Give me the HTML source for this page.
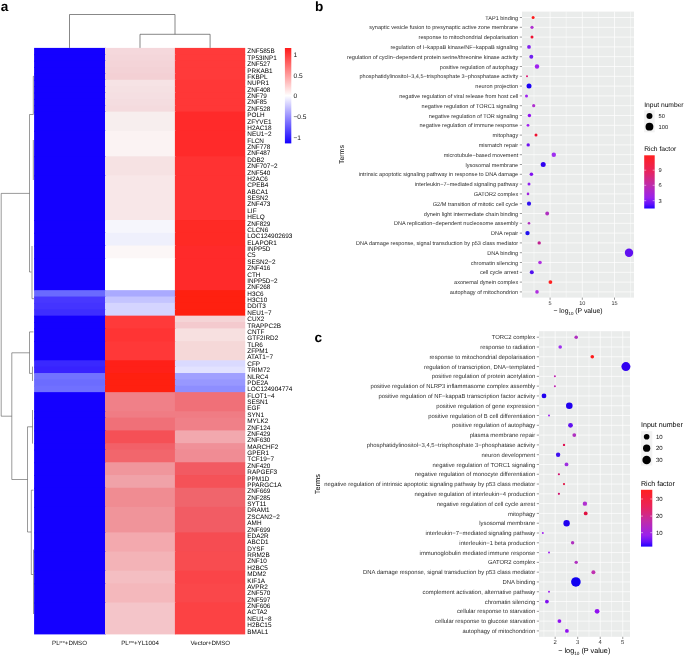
<!DOCTYPE html>
<html><head><meta charset="utf-8"><style>
html,body{margin:0;padding:0;background:#fff;}
body{width:685px;height:655px;overflow:hidden;}
svg{display:block;font-family:"Liberation Sans", sans-serif;text-rendering:geometricPrecision;will-change:transform;}
</style></head><body>
<svg width="685" height="655" viewBox="0 0 685 655">
<rect width="685" height="655" fill="#fff"/>
<rect x="34.10" y="47.90" width="71.90" height="7.38" fill="#1400ff"/>
<rect x="105.00" y="47.90" width="70.90" height="7.38" fill="#f5d8dc"/>
<rect x="174.90" y="47.90" width="70.30" height="7.38" fill="#ff3a3a"/>
<rect x="34.10" y="54.27" width="71.90" height="7.38" fill="#1400ff"/>
<rect x="105.00" y="54.27" width="70.90" height="7.38" fill="#f4d6da"/>
<rect x="174.90" y="54.27" width="70.30" height="7.38" fill="#ff3a3a"/>
<rect x="34.10" y="60.65" width="71.90" height="7.38" fill="#1400ff"/>
<rect x="105.00" y="60.65" width="70.90" height="7.38" fill="#f4d4d8"/>
<rect x="174.90" y="60.65" width="70.30" height="7.38" fill="#ff3a3a"/>
<rect x="34.10" y="67.03" width="71.90" height="7.38" fill="#1400ff"/>
<rect x="105.00" y="67.03" width="70.90" height="7.38" fill="#f3d2d6"/>
<rect x="174.90" y="67.03" width="70.30" height="7.38" fill="#ff3a3a"/>
<rect x="34.10" y="73.40" width="71.90" height="7.38" fill="#1400ff"/>
<rect x="105.00" y="73.40" width="70.90" height="7.38" fill="#f3d0d4"/>
<rect x="174.90" y="73.40" width="70.30" height="7.38" fill="#ff3a3a"/>
<rect x="34.10" y="79.78" width="71.90" height="7.38" fill="#1400ff"/>
<rect x="105.00" y="79.78" width="70.90" height="7.38" fill="#f6e3e5"/>
<rect x="174.90" y="79.78" width="70.30" height="7.38" fill="#ff3737"/>
<rect x="34.10" y="86.15" width="71.90" height="7.38" fill="#1400ff"/>
<rect x="105.00" y="86.15" width="70.90" height="7.38" fill="#f5e1e3"/>
<rect x="174.90" y="86.15" width="70.30" height="7.38" fill="#ff3737"/>
<rect x="34.10" y="92.53" width="71.90" height="7.38" fill="#1400ff"/>
<rect x="105.00" y="92.53" width="70.90" height="7.38" fill="#f5dfe2"/>
<rect x="174.90" y="92.53" width="70.30" height="7.38" fill="#ff3737"/>
<rect x="34.10" y="98.90" width="71.90" height="7.38" fill="#1400ff"/>
<rect x="105.00" y="98.90" width="70.90" height="7.38" fill="#f4dde0"/>
<rect x="174.90" y="98.90" width="70.30" height="7.38" fill="#ff3737"/>
<rect x="34.10" y="105.28" width="71.90" height="7.38" fill="#1400ff"/>
<rect x="105.00" y="105.28" width="70.90" height="7.38" fill="#f4dbde"/>
<rect x="174.90" y="105.28" width="70.30" height="7.38" fill="#ff3737"/>
<rect x="34.10" y="111.65" width="71.90" height="20.12" fill="#1400ff"/>
<rect x="105.00" y="111.65" width="70.90" height="20.12" fill="#f7eeee"/>
<rect x="174.90" y="111.65" width="70.30" height="20.12" fill="#ff2a2a"/>
<rect x="34.10" y="130.78" width="71.90" height="26.50" fill="#1400ff"/>
<rect x="105.00" y="130.78" width="70.90" height="26.50" fill="#fbf3f3"/>
<rect x="174.90" y="130.78" width="70.30" height="26.50" fill="#ff2a2a"/>
<rect x="34.10" y="156.28" width="71.90" height="20.12" fill="#1400ff"/>
<rect x="105.00" y="156.28" width="70.90" height="20.12" fill="#f6e2e3"/>
<rect x="174.90" y="156.28" width="70.30" height="20.12" fill="#ff3232"/>
<rect x="34.10" y="175.40" width="71.90" height="45.62" fill="#1400ff"/>
<rect x="105.00" y="175.40" width="70.90" height="45.62" fill="#f8e7e8"/>
<rect x="174.90" y="175.40" width="70.30" height="45.62" fill="#ff3232"/>
<rect x="34.10" y="220.03" width="71.90" height="13.75" fill="#1400ff"/>
<rect x="105.00" y="220.03" width="70.90" height="13.75" fill="#f6f6fc"/>
<rect x="174.90" y="220.03" width="70.30" height="13.75" fill="#ff2a25"/>
<rect x="34.10" y="232.78" width="71.90" height="13.75" fill="#1400ff"/>
<rect x="105.00" y="232.78" width="70.90" height="13.75" fill="#eff0fc"/>
<rect x="174.90" y="232.78" width="70.30" height="13.75" fill="#ff2a25"/>
<rect x="34.10" y="245.53" width="71.90" height="13.75" fill="#1400ff"/>
<rect x="105.00" y="245.53" width="70.90" height="13.75" fill="#fcf7f7"/>
<rect x="174.90" y="245.53" width="70.30" height="13.75" fill="#ff2a2a"/>
<rect x="34.10" y="258.27" width="71.90" height="32.88" fill="#1400ff"/>
<rect x="105.00" y="258.27" width="70.90" height="32.88" fill="#ffffff"/>
<rect x="174.90" y="258.27" width="70.30" height="32.88" fill="#ff2a2a"/>
<rect x="34.10" y="290.15" width="71.90" height="7.38" fill="#6a6aff"/>
<rect x="105.00" y="290.15" width="70.90" height="7.38" fill="#aaaaff"/>
<rect x="174.90" y="290.15" width="70.30" height="7.38" fill="#ff2010"/>
<rect x="34.10" y="296.52" width="71.90" height="7.38" fill="#4838ff"/>
<rect x="105.00" y="296.52" width="70.90" height="7.38" fill="#c4c4ff"/>
<rect x="174.90" y="296.52" width="70.30" height="7.38" fill="#ff2010"/>
<rect x="34.10" y="302.90" width="71.90" height="7.38" fill="#4434ff"/>
<rect x="105.00" y="302.90" width="70.90" height="7.38" fill="#d4d4ff"/>
<rect x="174.90" y="302.90" width="70.30" height="7.38" fill="#ff2010"/>
<rect x="34.10" y="309.27" width="71.90" height="7.38" fill="#3e2eff"/>
<rect x="105.00" y="309.27" width="70.90" height="7.38" fill="#d4d4ff"/>
<rect x="174.90" y="309.27" width="70.30" height="7.38" fill="#ff2010"/>
<rect x="34.10" y="315.65" width="71.90" height="7.38" fill="#1400ff"/>
<rect x="105.00" y="315.65" width="70.90" height="7.38" fill="#ff3a3a"/>
<rect x="174.90" y="315.65" width="70.30" height="7.38" fill="#f5d4d6"/>
<rect x="34.10" y="322.02" width="71.90" height="7.38" fill="#1400ff"/>
<rect x="105.00" y="322.02" width="70.90" height="7.38" fill="#ff3a3a"/>
<rect x="174.90" y="322.02" width="70.30" height="7.38" fill="#f4cace"/>
<rect x="34.10" y="328.40" width="71.90" height="13.75" fill="#1400ff"/>
<rect x="105.00" y="328.40" width="70.90" height="13.75" fill="#ff3434"/>
<rect x="174.90" y="328.40" width="70.30" height="13.75" fill="#f7e0e0"/>
<rect x="34.10" y="341.15" width="71.90" height="20.12" fill="#1400ff"/>
<rect x="105.00" y="341.15" width="70.90" height="20.12" fill="#ff3838"/>
<rect x="174.90" y="341.15" width="70.30" height="20.12" fill="#f5d8d8"/>
<rect x="34.10" y="360.27" width="71.90" height="7.38" fill="#3a28ff"/>
<rect x="105.00" y="360.27" width="70.90" height="7.38" fill="#ff2018"/>
<rect x="174.90" y="360.27" width="70.30" height="7.38" fill="#dadaff"/>
<rect x="34.10" y="366.65" width="71.90" height="7.38" fill="#3822ff"/>
<rect x="105.00" y="366.65" width="70.90" height="7.38" fill="#ff2018"/>
<rect x="174.90" y="366.65" width="70.30" height="7.38" fill="#e2e2ff"/>
<rect x="34.10" y="373.02" width="71.90" height="7.38" fill="#7272ff"/>
<rect x="105.00" y="373.02" width="70.90" height="7.38" fill="#ff2010"/>
<rect x="174.90" y="373.02" width="70.30" height="7.38" fill="#a0a0ff"/>
<rect x="34.10" y="379.40" width="71.90" height="7.38" fill="#6c6cff"/>
<rect x="105.00" y="379.40" width="70.90" height="7.38" fill="#ff2010"/>
<rect x="174.90" y="379.40" width="70.30" height="7.38" fill="#9898ff"/>
<rect x="34.10" y="385.77" width="71.90" height="7.38" fill="#7070ff"/>
<rect x="105.00" y="385.77" width="70.90" height="7.38" fill="#ff2010"/>
<rect x="174.90" y="385.77" width="70.30" height="7.38" fill="#8e8eff"/>
<rect x="34.10" y="392.15" width="71.90" height="20.12" fill="#1400ff"/>
<rect x="105.00" y="392.15" width="70.90" height="20.12" fill="#f08088"/>
<rect x="174.90" y="392.15" width="70.30" height="20.12" fill="#f07078"/>
<rect x="34.10" y="411.27" width="71.90" height="7.38" fill="#1400ff"/>
<rect x="105.00" y="411.27" width="70.90" height="7.38" fill="#f07c84"/>
<rect x="174.90" y="411.27" width="70.30" height="7.38" fill="#f07c84"/>
<rect x="34.10" y="417.65" width="71.90" height="13.75" fill="#1400ff"/>
<rect x="105.00" y="417.65" width="70.90" height="13.75" fill="#f07078"/>
<rect x="174.90" y="417.65" width="70.30" height="13.75" fill="#f08088"/>
<rect x="34.10" y="430.40" width="71.90" height="13.75" fill="#1400ff"/>
<rect x="105.00" y="430.40" width="70.90" height="13.75" fill="#f55056"/>
<rect x="174.90" y="430.40" width="70.30" height="13.75" fill="#f2a8ae"/>
<rect x="34.10" y="443.15" width="71.90" height="7.38" fill="#1400ff"/>
<rect x="105.00" y="443.15" width="70.90" height="7.38" fill="#f26068"/>
<rect x="174.90" y="443.15" width="70.30" height="7.38" fill="#f09098"/>
<rect x="34.10" y="449.52" width="71.90" height="13.75" fill="#1400ff"/>
<rect x="105.00" y="449.52" width="70.90" height="13.75" fill="#f2666c"/>
<rect x="174.90" y="449.52" width="70.30" height="13.75" fill="#f08c94"/>
<rect x="34.10" y="462.27" width="71.90" height="13.75" fill="#1400ff"/>
<rect x="105.00" y="462.27" width="70.90" height="13.75" fill="#f0969c"/>
<rect x="174.90" y="462.27" width="70.30" height="13.75" fill="#f25a62"/>
<rect x="34.10" y="475.02" width="71.90" height="13.75" fill="#1400ff"/>
<rect x="105.00" y="475.02" width="70.90" height="13.75" fill="#f0a2a8"/>
<rect x="174.90" y="475.02" width="70.30" height="13.75" fill="#f55258"/>
<rect x="34.10" y="487.77" width="71.90" height="20.12" fill="#1400ff"/>
<rect x="105.00" y="487.77" width="70.90" height="20.12" fill="#f08c92"/>
<rect x="174.90" y="487.77" width="70.30" height="20.12" fill="#f0656c"/>
<rect x="34.10" y="506.90" width="71.90" height="26.50" fill="#1400ff"/>
<rect x="105.00" y="506.90" width="70.90" height="26.50" fill="#f0949a"/>
<rect x="174.90" y="506.90" width="70.30" height="26.50" fill="#f25c64"/>
<rect x="34.10" y="532.40" width="71.90" height="20.12" fill="#1400ff"/>
<rect x="105.00" y="532.40" width="70.90" height="20.12" fill="#f3a9ae"/>
<rect x="174.90" y="532.40" width="70.30" height="20.12" fill="#f64c52"/>
<rect x="34.10" y="551.52" width="71.90" height="20.12" fill="#1400ff"/>
<rect x="105.00" y="551.52" width="70.90" height="20.12" fill="#f3b3b7"/>
<rect x="174.90" y="551.52" width="70.30" height="20.12" fill="#f84c50"/>
<rect x="34.10" y="570.65" width="71.90" height="13.75" fill="#1400ff"/>
<rect x="105.00" y="570.65" width="70.90" height="13.75" fill="#f4bec2"/>
<rect x="174.90" y="570.65" width="70.30" height="13.75" fill="#fa4448"/>
<rect x="34.10" y="583.40" width="71.90" height="20.12" fill="#1400ff"/>
<rect x="105.00" y="583.40" width="70.90" height="20.12" fill="#f4b8bc"/>
<rect x="174.90" y="583.40" width="70.30" height="20.12" fill="#fa474a"/>
<rect x="34.10" y="602.52" width="71.90" height="31.88" fill="#1400ff"/>
<rect x="105.00" y="602.52" width="70.90" height="31.88" fill="#f4c5c9"/>
<rect x="174.90" y="602.52" width="70.30" height="31.88" fill="#fc4244"/>
<text x="247.3" y="53.44" font-size="6.4" fill="#000">ZNF585B</text>
<text x="247.3" y="59.81" font-size="6.4" fill="#000">TP53INP1</text>
<text x="247.3" y="66.19" font-size="6.4" fill="#000">ZNF527</text>
<text x="247.3" y="72.56" font-size="6.4" fill="#000">PRKAB1</text>
<text x="247.3" y="78.94" font-size="6.4" fill="#000">FKBPL</text>
<text x="247.3" y="85.31" font-size="6.4" fill="#000">NUPR1</text>
<text x="247.3" y="91.69" font-size="6.4" fill="#000">ZNF408</text>
<text x="247.3" y="98.06" font-size="6.4" fill="#000">ZNF79</text>
<text x="247.3" y="104.44" font-size="6.4" fill="#000">ZNF85</text>
<text x="247.3" y="110.81" font-size="6.4" fill="#000">ZNF528</text>
<text x="247.3" y="117.19" font-size="6.4" fill="#000">POLH</text>
<text x="247.3" y="123.56" font-size="6.4" fill="#000">ZFYVE1</text>
<text x="247.3" y="129.94" font-size="6.4" fill="#000">H2AC18</text>
<text x="247.3" y="136.31" font-size="6.4" fill="#000">NEU1−2</text>
<text x="247.3" y="142.69" font-size="6.4" fill="#000">FLCN</text>
<text x="247.3" y="149.06" font-size="6.4" fill="#000">ZNF778</text>
<text x="247.3" y="155.44" font-size="6.4" fill="#000">ZNF487</text>
<text x="247.3" y="161.81" font-size="6.4" fill="#000">DDB2</text>
<text x="247.3" y="168.19" font-size="6.4" fill="#000">ZNF707−2</text>
<text x="247.3" y="174.56" font-size="6.4" fill="#000">ZNF540</text>
<text x="247.3" y="180.94" font-size="6.4" fill="#000">H2AC6</text>
<text x="247.3" y="187.31" font-size="6.4" fill="#000">CPEB4</text>
<text x="247.3" y="193.69" font-size="6.4" fill="#000">ABCA1</text>
<text x="247.3" y="200.06" font-size="6.4" fill="#000">SESN2</text>
<text x="247.3" y="206.44" font-size="6.4" fill="#000">ZNF473</text>
<text x="247.3" y="212.81" font-size="6.4" fill="#000">LIF</text>
<text x="247.3" y="219.19" font-size="6.4" fill="#000">HELQ</text>
<text x="247.3" y="225.56" font-size="6.4" fill="#000">ZNF829</text>
<text x="247.3" y="231.94" font-size="6.4" fill="#000">CLCN6</text>
<text x="247.3" y="238.31" font-size="6.4" fill="#000">LOC124902693</text>
<text x="247.3" y="244.69" font-size="6.4" fill="#000">ELAPOR1</text>
<text x="247.3" y="251.06" font-size="6.4" fill="#000">INPP5D</text>
<text x="247.3" y="257.44" font-size="6.4" fill="#000">C5</text>
<text x="247.3" y="263.81" font-size="6.4" fill="#000">SESN2−2</text>
<text x="247.3" y="270.19" font-size="6.4" fill="#000">ZNF416</text>
<text x="247.3" y="276.56" font-size="6.4" fill="#000">CTH</text>
<text x="247.3" y="282.94" font-size="6.4" fill="#000">INPP5D−2</text>
<text x="247.3" y="289.31" font-size="6.4" fill="#000">ZNF268</text>
<text x="247.3" y="295.69" font-size="6.4" fill="#000">H3C6</text>
<text x="247.3" y="302.06" font-size="6.4" fill="#000">H3C10</text>
<text x="247.3" y="308.44" font-size="6.4" fill="#000">DDIT3</text>
<text x="247.3" y="314.81" font-size="6.4" fill="#000">NEU1−7</text>
<text x="247.3" y="321.19" font-size="6.4" fill="#000">CUX2</text>
<text x="247.3" y="327.56" font-size="6.4" fill="#000">TRAPPC2B</text>
<text x="247.3" y="333.94" font-size="6.4" fill="#000">CNTF</text>
<text x="247.3" y="340.31" font-size="6.4" fill="#000">GTF2IRD2</text>
<text x="247.3" y="346.69" font-size="6.4" fill="#000">TLR6</text>
<text x="247.3" y="353.06" font-size="6.4" fill="#000">ZFPM1</text>
<text x="247.3" y="359.44" font-size="6.4" fill="#000">ATAT1−7</text>
<text x="247.3" y="365.81" font-size="6.4" fill="#000">CFP</text>
<text x="247.3" y="372.19" font-size="6.4" fill="#000">TRIM72</text>
<text x="247.3" y="378.56" font-size="6.4" fill="#000">NLRC4</text>
<text x="247.3" y="384.94" font-size="6.4" fill="#000">PDE2A</text>
<text x="247.3" y="391.31" font-size="6.4" fill="#000">LOC124904774</text>
<text x="247.3" y="397.69" font-size="6.4" fill="#000">FLOT1−4</text>
<text x="247.3" y="404.06" font-size="6.4" fill="#000">SESN1</text>
<text x="247.3" y="410.44" font-size="6.4" fill="#000">EGF</text>
<text x="247.3" y="416.81" font-size="6.4" fill="#000">SYN1</text>
<text x="247.3" y="423.19" font-size="6.4" fill="#000">MYLK2</text>
<text x="247.3" y="429.56" font-size="6.4" fill="#000">ZNF124</text>
<text x="247.3" y="435.94" font-size="6.4" fill="#000">ZNF429</text>
<text x="247.3" y="442.31" font-size="6.4" fill="#000">ZNF630</text>
<text x="247.3" y="448.69" font-size="6.4" fill="#000">MARCHF2</text>
<text x="247.3" y="455.06" font-size="6.4" fill="#000">GPER1</text>
<text x="247.3" y="461.44" font-size="6.4" fill="#000">TCF19−7</text>
<text x="247.3" y="467.81" font-size="6.4" fill="#000">ZNF420</text>
<text x="247.3" y="474.19" font-size="6.4" fill="#000">RAPGEF3</text>
<text x="247.3" y="480.56" font-size="6.4" fill="#000">PPM1D</text>
<text x="247.3" y="486.94" font-size="6.4" fill="#000">PPARGC1A</text>
<text x="247.3" y="493.31" font-size="6.4" fill="#000">ZNF669</text>
<text x="247.3" y="499.69" font-size="6.4" fill="#000">ZNF285</text>
<text x="247.3" y="506.06" font-size="6.4" fill="#000">SYT11</text>
<text x="247.3" y="512.44" font-size="6.4" fill="#000">DRAM1</text>
<text x="247.3" y="518.81" font-size="6.4" fill="#000">ZSCAN2−2</text>
<text x="247.3" y="525.19" font-size="6.4" fill="#000">AMH</text>
<text x="247.3" y="531.56" font-size="6.4" fill="#000">ZNF699</text>
<text x="247.3" y="537.94" font-size="6.4" fill="#000">EDA2R</text>
<text x="247.3" y="544.31" font-size="6.4" fill="#000">ABCD1</text>
<text x="247.3" y="550.69" font-size="6.4" fill="#000">DYSF</text>
<text x="247.3" y="557.06" font-size="6.4" fill="#000">RRM2B</text>
<text x="247.3" y="563.44" font-size="6.4" fill="#000">ZNF10</text>
<text x="247.3" y="569.81" font-size="6.4" fill="#000">H2BC5</text>
<text x="247.3" y="576.19" font-size="6.4" fill="#000">MDM2</text>
<text x="247.3" y="582.56" font-size="6.4" fill="#000">KIF1A</text>
<text x="247.3" y="588.94" font-size="6.4" fill="#000">AVPR2</text>
<text x="247.3" y="595.31" font-size="6.4" fill="#000">ZNF570</text>
<text x="247.3" y="601.69" font-size="6.4" fill="#000">ZNF597</text>
<text x="247.3" y="608.06" font-size="6.4" fill="#000">ZNF606</text>
<text x="247.3" y="614.44" font-size="6.4" fill="#000">ACTA2</text>
<text x="247.3" y="620.81" font-size="6.4" fill="#000">NEU1−8</text>
<text x="247.3" y="627.19" font-size="6.4" fill="#000">H2BC15</text>
<text x="247.3" y="633.56" font-size="6.4" fill="#000">BMAL1</text>
<path d="M69.5 47.9V14.5H175V34.3M140 47.9V34.3H210.1V47.9" fill="none" stroke="#555" stroke-width="0.7"/>
<path d="M34 76.3H33.3V114.5 M33.3 114.5H29.5V272H31.5 M29.5 193.4H1.2V416.2H11.8 M33.3 140V180 M32 246V298.7H34 M33.5 331.9H29.5V373.4H32 M29.5 352.8H11.8V479.5H27.5 M32.5 366.6V381 M32.5 426.8H27.5V532H31.3 M32.5 410V443.6 M33.5 490.2H31.3V574.5H33.3 M33.5 549.6V614" fill="none" stroke="#555" stroke-width="0.6"/>
<defs><linearGradient id="hmcb" x1="0" y1="0" x2="0" y2="1"><stop offset="0" stop-color="#ff1a1a"/><stop offset="0.5" stop-color="#ffffff"/><stop offset="1" stop-color="#1400ff"/></linearGradient><linearGradient id="rfb" x1="0" y1="0" x2="0" y2="1"><stop offset="0" stop-color="#ff2020"/><stop offset="0.3" stop-color="#e8245c"/><stop offset="0.55" stop-color="#c02ca8"/><stop offset="0.8" stop-color="#9a22ec"/><stop offset="0.92" stop-color="#6010fa"/><stop offset="1" stop-color="#2000ff"/></linearGradient></defs>
<rect x="284.9" y="48" width="6.4" height="95.4" fill="url(#hmcb)"/>
<text x="293.5" y="56.5" font-size="6.6" fill="#111">1</text>
<text x="293.5" y="77.8" font-size="6.6" fill="#111">0.5</text>
<text x="293.5" y="97.9" font-size="6.6" fill="#111">0</text>
<text x="293.5" y="119.0" font-size="6.6" fill="#111">−0.5</text>
<text x="293.5" y="139.6" font-size="6.6" fill="#111">−1</text>
<text x="69.5" y="644.6" font-size="6.2" fill="#111" text-anchor="middle">PL<tspan font-size="3.6" dy="-2">pro</tspan><tspan dy="2">+DMSO</tspan></text>
<text x="140" y="644.6" font-size="6.2" fill="#111" text-anchor="middle">PL<tspan font-size="3.6" dy="-2">pro</tspan><tspan dy="2">+YL1004</tspan></text>
<text x="210.3" y="644.6" font-size="6.2" fill="#111" text-anchor="middle">Vector+DMSO</text>
<text x="0.7" y="10.8" font-size="13.6" font-weight="bold" fill="#000">a</text>
<text x="314.9" y="10.8" font-size="13.6" font-weight="bold" fill="#000">b</text>
<text x="314.4" y="341.8" font-size="13.6" font-weight="bold" fill="#000">c</text>
<rect x="522" y="11.6" width="112" height="286.0" fill="#eaeceb"/>
<line x1="534.00" y1="11.6" x2="534.00" y2="297.6" stroke="#fff" stroke-width="0.45"/>
<line x1="566.20" y1="11.6" x2="566.20" y2="297.6" stroke="#fff" stroke-width="0.45"/>
<line x1="598.40" y1="11.6" x2="598.40" y2="297.6" stroke="#fff" stroke-width="0.45"/>
<line x1="630.60" y1="11.6" x2="630.60" y2="297.6" stroke="#fff" stroke-width="0.45"/>
<line x1="550.10" y1="11.6" x2="550.10" y2="297.6" stroke="#fff" stroke-width="0.7"/>
<line x1="582.30" y1="11.6" x2="582.30" y2="297.6" stroke="#fff" stroke-width="0.7"/>
<line x1="614.50" y1="11.6" x2="614.50" y2="297.6" stroke="#fff" stroke-width="0.7"/>
<line x1="522" y1="17.50" x2="634" y2="17.50" stroke="#fff" stroke-width="0.7"/>
<line x1="522" y1="27.30" x2="634" y2="27.30" stroke="#fff" stroke-width="0.7"/>
<line x1="522" y1="37.10" x2="634" y2="37.10" stroke="#fff" stroke-width="0.7"/>
<line x1="522" y1="46.90" x2="634" y2="46.90" stroke="#fff" stroke-width="0.7"/>
<line x1="522" y1="56.70" x2="634" y2="56.70" stroke="#fff" stroke-width="0.7"/>
<line x1="522" y1="66.50" x2="634" y2="66.50" stroke="#fff" stroke-width="0.7"/>
<line x1="522" y1="76.30" x2="634" y2="76.30" stroke="#fff" stroke-width="0.7"/>
<line x1="522" y1="86.10" x2="634" y2="86.10" stroke="#fff" stroke-width="0.7"/>
<line x1="522" y1="95.90" x2="634" y2="95.90" stroke="#fff" stroke-width="0.7"/>
<line x1="522" y1="105.70" x2="634" y2="105.70" stroke="#fff" stroke-width="0.7"/>
<line x1="522" y1="115.50" x2="634" y2="115.50" stroke="#fff" stroke-width="0.7"/>
<line x1="522" y1="125.30" x2="634" y2="125.30" stroke="#fff" stroke-width="0.7"/>
<line x1="522" y1="135.10" x2="634" y2="135.10" stroke="#fff" stroke-width="0.7"/>
<line x1="522" y1="144.90" x2="634" y2="144.90" stroke="#fff" stroke-width="0.7"/>
<line x1="522" y1="154.70" x2="634" y2="154.70" stroke="#fff" stroke-width="0.7"/>
<line x1="522" y1="164.50" x2="634" y2="164.50" stroke="#fff" stroke-width="0.7"/>
<line x1="522" y1="174.30" x2="634" y2="174.30" stroke="#fff" stroke-width="0.7"/>
<line x1="522" y1="184.10" x2="634" y2="184.10" stroke="#fff" stroke-width="0.7"/>
<line x1="522" y1="193.90" x2="634" y2="193.90" stroke="#fff" stroke-width="0.7"/>
<line x1="522" y1="203.70" x2="634" y2="203.70" stroke="#fff" stroke-width="0.7"/>
<line x1="522" y1="213.50" x2="634" y2="213.50" stroke="#fff" stroke-width="0.7"/>
<line x1="522" y1="223.30" x2="634" y2="223.30" stroke="#fff" stroke-width="0.7"/>
<line x1="522" y1="233.10" x2="634" y2="233.10" stroke="#fff" stroke-width="0.7"/>
<line x1="522" y1="242.90" x2="634" y2="242.90" stroke="#fff" stroke-width="0.7"/>
<line x1="522" y1="252.70" x2="634" y2="252.70" stroke="#fff" stroke-width="0.7"/>
<line x1="522" y1="262.50" x2="634" y2="262.50" stroke="#fff" stroke-width="0.7"/>
<line x1="522" y1="272.30" x2="634" y2="272.30" stroke="#fff" stroke-width="0.7"/>
<line x1="522" y1="282.10" x2="634" y2="282.10" stroke="#fff" stroke-width="0.7"/>
<line x1="522" y1="291.90" x2="634" y2="291.90" stroke="#fff" stroke-width="0.7"/>
<text x="518.2" y="19.50" font-size="5.55" fill="#2e2e2e" text-anchor="end">TAP1 binding</text>
<line x1="519.8" y1="17.50" x2="522" y2="17.50" stroke="#333" stroke-width="0.5"/>
<text x="518.2" y="29.30" font-size="5.55" fill="#2e2e2e" text-anchor="end">synaptic vesicle fusion to presynaptic active zone membrane</text>
<line x1="519.8" y1="27.30" x2="522" y2="27.30" stroke="#333" stroke-width="0.5"/>
<text x="518.2" y="39.10" font-size="5.55" fill="#2e2e2e" text-anchor="end">response to mitochondrial depolarisation</text>
<line x1="519.8" y1="37.10" x2="522" y2="37.10" stroke="#333" stroke-width="0.5"/>
<text x="518.2" y="48.90" font-size="5.55" fill="#2e2e2e" text-anchor="end">regulation of I−kappaB kinase/NF−kappaB signaling</text>
<line x1="519.8" y1="46.90" x2="522" y2="46.90" stroke="#333" stroke-width="0.5"/>
<text x="518.2" y="58.70" font-size="5.55" fill="#2e2e2e" text-anchor="end">regulation of cyclin−dependent protein serine/threonine kinase activity</text>
<line x1="519.8" y1="56.70" x2="522" y2="56.70" stroke="#333" stroke-width="0.5"/>
<text x="518.2" y="68.50" font-size="5.55" fill="#2e2e2e" text-anchor="end">positive regulation of autophagy</text>
<line x1="519.8" y1="66.50" x2="522" y2="66.50" stroke="#333" stroke-width="0.5"/>
<text x="518.2" y="78.30" font-size="5.55" fill="#2e2e2e" text-anchor="end">phosphatidylinositol−3,4,5−trisphosphate 3−phosphatase activity</text>
<line x1="519.8" y1="76.30" x2="522" y2="76.30" stroke="#333" stroke-width="0.5"/>
<text x="518.2" y="88.10" font-size="5.55" fill="#2e2e2e" text-anchor="end">neuron projection</text>
<line x1="519.8" y1="86.10" x2="522" y2="86.10" stroke="#333" stroke-width="0.5"/>
<text x="518.2" y="97.90" font-size="5.55" fill="#2e2e2e" text-anchor="end">negative regulation of viral release from host cell</text>
<line x1="519.8" y1="95.90" x2="522" y2="95.90" stroke="#333" stroke-width="0.5"/>
<text x="518.2" y="107.70" font-size="5.55" fill="#2e2e2e" text-anchor="end">negative regulation of TORC1 signaling</text>
<line x1="519.8" y1="105.70" x2="522" y2="105.70" stroke="#333" stroke-width="0.5"/>
<text x="518.2" y="117.50" font-size="5.55" fill="#2e2e2e" text-anchor="end">negative regulation of TOR signaling</text>
<line x1="519.8" y1="115.50" x2="522" y2="115.50" stroke="#333" stroke-width="0.5"/>
<text x="518.2" y="127.30" font-size="5.55" fill="#2e2e2e" text-anchor="end">negative regulation of immune response</text>
<line x1="519.8" y1="125.30" x2="522" y2="125.30" stroke="#333" stroke-width="0.5"/>
<text x="518.2" y="137.10" font-size="5.55" fill="#2e2e2e" text-anchor="end">mitophagy</text>
<line x1="519.8" y1="135.10" x2="522" y2="135.10" stroke="#333" stroke-width="0.5"/>
<text x="518.2" y="146.90" font-size="5.55" fill="#2e2e2e" text-anchor="end">mismatch repair</text>
<line x1="519.8" y1="144.90" x2="522" y2="144.90" stroke="#333" stroke-width="0.5"/>
<text x="518.2" y="156.70" font-size="5.55" fill="#2e2e2e" text-anchor="end">microtubule−based movement</text>
<line x1="519.8" y1="154.70" x2="522" y2="154.70" stroke="#333" stroke-width="0.5"/>
<text x="518.2" y="166.50" font-size="5.55" fill="#2e2e2e" text-anchor="end">lysosomal membrane</text>
<line x1="519.8" y1="164.50" x2="522" y2="164.50" stroke="#333" stroke-width="0.5"/>
<text x="518.2" y="176.30" font-size="5.55" fill="#2e2e2e" text-anchor="end">intrinsic apoptotic signaling pathway in response to DNA damage</text>
<line x1="519.8" y1="174.30" x2="522" y2="174.30" stroke="#333" stroke-width="0.5"/>
<text x="518.2" y="186.10" font-size="5.55" fill="#2e2e2e" text-anchor="end">interleukin−7−mediated signaling pathway</text>
<line x1="519.8" y1="184.10" x2="522" y2="184.10" stroke="#333" stroke-width="0.5"/>
<text x="518.2" y="195.90" font-size="5.55" fill="#2e2e2e" text-anchor="end">GATOR2 complex</text>
<line x1="519.8" y1="193.90" x2="522" y2="193.90" stroke="#333" stroke-width="0.5"/>
<text x="518.2" y="205.70" font-size="5.55" fill="#2e2e2e" text-anchor="end">G2/M transition of mitotic cell cycle</text>
<line x1="519.8" y1="203.70" x2="522" y2="203.70" stroke="#333" stroke-width="0.5"/>
<text x="518.2" y="215.50" font-size="5.55" fill="#2e2e2e" text-anchor="end">dynein light intermediate chain binding</text>
<line x1="519.8" y1="213.50" x2="522" y2="213.50" stroke="#333" stroke-width="0.5"/>
<text x="518.2" y="225.30" font-size="5.55" fill="#2e2e2e" text-anchor="end">DNA replication−dependent nucleosome assembly</text>
<line x1="519.8" y1="223.30" x2="522" y2="223.30" stroke="#333" stroke-width="0.5"/>
<text x="518.2" y="235.10" font-size="5.55" fill="#2e2e2e" text-anchor="end">DNA repair</text>
<line x1="519.8" y1="233.10" x2="522" y2="233.10" stroke="#333" stroke-width="0.5"/>
<text x="518.2" y="244.90" font-size="5.55" fill="#2e2e2e" text-anchor="end">DNA damage response, signal transduction by p53 class mediator</text>
<line x1="519.8" y1="242.90" x2="522" y2="242.90" stroke="#333" stroke-width="0.5"/>
<text x="518.2" y="254.70" font-size="5.55" fill="#2e2e2e" text-anchor="end">DNA binding</text>
<line x1="519.8" y1="252.70" x2="522" y2="252.70" stroke="#333" stroke-width="0.5"/>
<text x="518.2" y="264.50" font-size="5.55" fill="#2e2e2e" text-anchor="end">chromatin silencing</text>
<line x1="519.8" y1="262.50" x2="522" y2="262.50" stroke="#333" stroke-width="0.5"/>
<text x="518.2" y="274.30" font-size="5.55" fill="#2e2e2e" text-anchor="end">cell cycle arrest</text>
<line x1="519.8" y1="272.30" x2="522" y2="272.30" stroke="#333" stroke-width="0.5"/>
<text x="518.2" y="284.10" font-size="5.55" fill="#2e2e2e" text-anchor="end">axonemal dynein complex</text>
<line x1="519.8" y1="282.10" x2="522" y2="282.10" stroke="#333" stroke-width="0.5"/>
<text x="518.2" y="293.90" font-size="5.55" fill="#2e2e2e" text-anchor="end">autophagy of mitochondrion</text>
<line x1="519.8" y1="291.90" x2="522" y2="291.90" stroke="#333" stroke-width="0.5"/>
<circle cx="533.1" cy="17.50" r="1.5" fill="#ff1a1a"/>
<circle cx="532" cy="27.30" r="1.6" fill="#b030d0"/>
<circle cx="532" cy="37.10" r="1.5" fill="#f01030"/>
<circle cx="529" cy="46.90" r="1.9" fill="#8020f0"/>
<circle cx="531.3" cy="56.70" r="2.0" fill="#7020f0"/>
<circle cx="537" cy="66.50" r="2.2" fill="#a020f0"/>
<circle cx="527" cy="76.30" r="1.0" fill="#e01070"/>
<circle cx="529" cy="86.10" r="2.5" fill="#1a00f5"/>
<circle cx="526.5" cy="95.90" r="1.5" fill="#a020f0"/>
<circle cx="533.7" cy="105.70" r="1.6" fill="#b030d0"/>
<circle cx="529.4" cy="115.50" r="1.7" fill="#9010f0"/>
<circle cx="528" cy="125.30" r="1.4" fill="#a020f0"/>
<circle cx="536" cy="135.10" r="1.5" fill="#f01030"/>
<circle cx="528.2" cy="144.90" r="1.7" fill="#7010f0"/>
<circle cx="553.8" cy="154.70" r="2.2" fill="#a030f0"/>
<circle cx="543.2" cy="164.50" r="2.5" fill="#3000f0"/>
<circle cx="531.4" cy="174.30" r="1.8" fill="#8010f0"/>
<circle cx="529" cy="184.10" r="1.5" fill="#9020f0"/>
<circle cx="528" cy="193.90" r="1.3" fill="#a020e0"/>
<circle cx="529" cy="203.70" r="2.1" fill="#3010f0"/>
<circle cx="547.2" cy="213.50" r="1.9" fill="#b030c0"/>
<circle cx="529" cy="223.30" r="1.3" fill="#b030c0"/>
<circle cx="527.5" cy="233.10" r="2.2" fill="#2010f0"/>
<circle cx="539.2" cy="242.90" r="1.7" fill="#c02090"/>
<circle cx="629" cy="252.70" r="4.2" fill="#6010f0"/>
<circle cx="540" cy="262.50" r="1.8" fill="#b030e0"/>
<circle cx="531.8" cy="272.30" r="2.0" fill="#5010f0"/>
<circle cx="550.4" cy="282.10" r="1.9" fill="#ff2020"/>
<circle cx="537" cy="291.90" r="1.8" fill="#b030e0"/>
<line x1="550.10" y1="297.6" x2="550.10" y2="299.8" stroke="#333" stroke-width="0.5"/>
<text x="550.10" y="305.00" font-size="5.55" fill="#333" text-anchor="middle">5</text>
<line x1="582.30" y1="297.6" x2="582.30" y2="299.8" stroke="#333" stroke-width="0.5"/>
<text x="582.30" y="305.00" font-size="5.55" fill="#333" text-anchor="middle">10</text>
<line x1="614.50" y1="297.6" x2="614.50" y2="299.8" stroke="#333" stroke-width="0.5"/>
<text x="614.50" y="305.00" font-size="5.55" fill="#333" text-anchor="middle">15</text>
<text x="578" y="312.8" font-size="6.83" fill="#000" text-anchor="middle">− log<tspan font-size="4.44" dy="1.8">10</tspan><tspan dy="-1.8"> (P value)</tspan></text>
<text x="0" y="0" font-size="6.94" fill="#000" text-anchor="middle" transform="translate(344.3,154.6) rotate(-90)">Terms</text>
<rect x="539" y="331.2" width="91" height="305.59999999999997" fill="#eaeceb"/>
<line x1="543.89" y1="331.2" x2="543.89" y2="636.8" stroke="#fff" stroke-width="0.45"/>
<line x1="566.43" y1="331.2" x2="566.43" y2="636.8" stroke="#fff" stroke-width="0.45"/>
<line x1="588.96" y1="331.2" x2="588.96" y2="636.8" stroke="#fff" stroke-width="0.45"/>
<line x1="611.49" y1="331.2" x2="611.49" y2="636.8" stroke="#fff" stroke-width="0.45"/>
<line x1="555.16" y1="331.2" x2="555.16" y2="636.8" stroke="#fff" stroke-width="0.7"/>
<line x1="577.69" y1="331.2" x2="577.69" y2="636.8" stroke="#fff" stroke-width="0.7"/>
<line x1="600.22" y1="331.2" x2="600.22" y2="636.8" stroke="#fff" stroke-width="0.7"/>
<line x1="622.75" y1="331.2" x2="622.75" y2="636.8" stroke="#fff" stroke-width="0.7"/>
<line x1="539" y1="337.20" x2="630" y2="337.20" stroke="#fff" stroke-width="0.7"/>
<line x1="539" y1="346.99" x2="630" y2="346.99" stroke="#fff" stroke-width="0.7"/>
<line x1="539" y1="356.78" x2="630" y2="356.78" stroke="#fff" stroke-width="0.7"/>
<line x1="539" y1="366.57" x2="630" y2="366.57" stroke="#fff" stroke-width="0.7"/>
<line x1="539" y1="376.36" x2="630" y2="376.36" stroke="#fff" stroke-width="0.7"/>
<line x1="539" y1="386.15" x2="630" y2="386.15" stroke="#fff" stroke-width="0.7"/>
<line x1="539" y1="395.94" x2="630" y2="395.94" stroke="#fff" stroke-width="0.7"/>
<line x1="539" y1="405.73" x2="630" y2="405.73" stroke="#fff" stroke-width="0.7"/>
<line x1="539" y1="415.52" x2="630" y2="415.52" stroke="#fff" stroke-width="0.7"/>
<line x1="539" y1="425.31" x2="630" y2="425.31" stroke="#fff" stroke-width="0.7"/>
<line x1="539" y1="435.10" x2="630" y2="435.10" stroke="#fff" stroke-width="0.7"/>
<line x1="539" y1="444.89" x2="630" y2="444.89" stroke="#fff" stroke-width="0.7"/>
<line x1="539" y1="454.68" x2="630" y2="454.68" stroke="#fff" stroke-width="0.7"/>
<line x1="539" y1="464.47" x2="630" y2="464.47" stroke="#fff" stroke-width="0.7"/>
<line x1="539" y1="474.26" x2="630" y2="474.26" stroke="#fff" stroke-width="0.7"/>
<line x1="539" y1="484.05" x2="630" y2="484.05" stroke="#fff" stroke-width="0.7"/>
<line x1="539" y1="493.84" x2="630" y2="493.84" stroke="#fff" stroke-width="0.7"/>
<line x1="539" y1="503.63" x2="630" y2="503.63" stroke="#fff" stroke-width="0.7"/>
<line x1="539" y1="513.42" x2="630" y2="513.42" stroke="#fff" stroke-width="0.7"/>
<line x1="539" y1="523.21" x2="630" y2="523.21" stroke="#fff" stroke-width="0.7"/>
<line x1="539" y1="533.00" x2="630" y2="533.00" stroke="#fff" stroke-width="0.7"/>
<line x1="539" y1="542.79" x2="630" y2="542.79" stroke="#fff" stroke-width="0.7"/>
<line x1="539" y1="552.58" x2="630" y2="552.58" stroke="#fff" stroke-width="0.7"/>
<line x1="539" y1="562.37" x2="630" y2="562.37" stroke="#fff" stroke-width="0.7"/>
<line x1="539" y1="572.16" x2="630" y2="572.16" stroke="#fff" stroke-width="0.7"/>
<line x1="539" y1="581.95" x2="630" y2="581.95" stroke="#fff" stroke-width="0.7"/>
<line x1="539" y1="591.74" x2="630" y2="591.74" stroke="#fff" stroke-width="0.7"/>
<line x1="539" y1="601.53" x2="630" y2="601.53" stroke="#fff" stroke-width="0.7"/>
<line x1="539" y1="611.32" x2="630" y2="611.32" stroke="#fff" stroke-width="0.7"/>
<line x1="539" y1="621.11" x2="630" y2="621.11" stroke="#fff" stroke-width="0.7"/>
<line x1="539" y1="630.90" x2="630" y2="630.90" stroke="#fff" stroke-width="0.7"/>
<text x="535.2" y="339.32" font-size="5.9" fill="#2e2e2e" text-anchor="end">TORC2 complex</text>
<line x1="536.8" y1="337.20" x2="539" y2="337.20" stroke="#333" stroke-width="0.5"/>
<text x="535.2" y="349.11" font-size="5.9" fill="#2e2e2e" text-anchor="end">response to radiation</text>
<line x1="536.8" y1="346.99" x2="539" y2="346.99" stroke="#333" stroke-width="0.5"/>
<text x="535.2" y="358.90" font-size="5.9" fill="#2e2e2e" text-anchor="end">response to mitochondrial depolarisation</text>
<line x1="536.8" y1="356.78" x2="539" y2="356.78" stroke="#333" stroke-width="0.5"/>
<text x="535.2" y="368.69" font-size="5.9" fill="#2e2e2e" text-anchor="end">regulation of transcription, DNA−templated</text>
<line x1="536.8" y1="366.57" x2="539" y2="366.57" stroke="#333" stroke-width="0.5"/>
<text x="535.2" y="378.48" font-size="5.9" fill="#2e2e2e" text-anchor="end">positive regulation of protein acetylation</text>
<line x1="536.8" y1="376.36" x2="539" y2="376.36" stroke="#333" stroke-width="0.5"/>
<text x="535.2" y="388.27" font-size="5.9" fill="#2e2e2e" text-anchor="end">positive regulation of NLRP3 inflammasome complex assembly</text>
<line x1="536.8" y1="386.15" x2="539" y2="386.15" stroke="#333" stroke-width="0.5"/>
<text x="535.2" y="398.06" font-size="5.9" fill="#2e2e2e" text-anchor="end">positive regulation of NF−kappaB transcription factor activity</text>
<line x1="536.8" y1="395.94" x2="539" y2="395.94" stroke="#333" stroke-width="0.5"/>
<text x="535.2" y="407.85" font-size="5.9" fill="#2e2e2e" text-anchor="end">positive regulation of gene expression</text>
<line x1="536.8" y1="405.73" x2="539" y2="405.73" stroke="#333" stroke-width="0.5"/>
<text x="535.2" y="417.64" font-size="5.9" fill="#2e2e2e" text-anchor="end">positive regulation of B cell differentiation</text>
<line x1="536.8" y1="415.52" x2="539" y2="415.52" stroke="#333" stroke-width="0.5"/>
<text x="535.2" y="427.43" font-size="5.9" fill="#2e2e2e" text-anchor="end">positive regulation of autophagy</text>
<line x1="536.8" y1="425.31" x2="539" y2="425.31" stroke="#333" stroke-width="0.5"/>
<text x="535.2" y="437.22" font-size="5.9" fill="#2e2e2e" text-anchor="end">plasma membrane repair</text>
<line x1="536.8" y1="435.10" x2="539" y2="435.10" stroke="#333" stroke-width="0.5"/>
<text x="535.2" y="447.01" font-size="5.9" fill="#2e2e2e" text-anchor="end">phosphatidylinositol−3,4,5−trisphosphate 3−phosphatase activity</text>
<line x1="536.8" y1="444.89" x2="539" y2="444.89" stroke="#333" stroke-width="0.5"/>
<text x="535.2" y="456.80" font-size="5.9" fill="#2e2e2e" text-anchor="end">neuron development</text>
<line x1="536.8" y1="454.68" x2="539" y2="454.68" stroke="#333" stroke-width="0.5"/>
<text x="535.2" y="466.59" font-size="5.9" fill="#2e2e2e" text-anchor="end">negative regulation of TORC1 signaling</text>
<line x1="536.8" y1="464.47" x2="539" y2="464.47" stroke="#333" stroke-width="0.5"/>
<text x="535.2" y="476.38" font-size="5.9" fill="#2e2e2e" text-anchor="end">negative regulation of monocyte differentiation</text>
<line x1="536.8" y1="474.26" x2="539" y2="474.26" stroke="#333" stroke-width="0.5"/>
<text x="535.2" y="486.17" font-size="5.9" fill="#2e2e2e" text-anchor="end">negative regulation of intrinsic apoptotic signaling pathway by p53 class mediator</text>
<line x1="536.8" y1="484.05" x2="539" y2="484.05" stroke="#333" stroke-width="0.5"/>
<text x="535.2" y="495.96" font-size="5.9" fill="#2e2e2e" text-anchor="end">negative regulation of interleukin−4 production</text>
<line x1="536.8" y1="493.84" x2="539" y2="493.84" stroke="#333" stroke-width="0.5"/>
<text x="535.2" y="505.75" font-size="5.9" fill="#2e2e2e" text-anchor="end">negative regulation of cell cycle arrest</text>
<line x1="536.8" y1="503.63" x2="539" y2="503.63" stroke="#333" stroke-width="0.5"/>
<text x="535.2" y="515.54" font-size="5.9" fill="#2e2e2e" text-anchor="end">mitophagy</text>
<line x1="536.8" y1="513.42" x2="539" y2="513.42" stroke="#333" stroke-width="0.5"/>
<text x="535.2" y="525.33" font-size="5.9" fill="#2e2e2e" text-anchor="end">lysosomal membrane</text>
<line x1="536.8" y1="523.21" x2="539" y2="523.21" stroke="#333" stroke-width="0.5"/>
<text x="535.2" y="535.12" font-size="5.9" fill="#2e2e2e" text-anchor="end">interleukin−7−mediated signaling pathway</text>
<line x1="536.8" y1="533.00" x2="539" y2="533.00" stroke="#333" stroke-width="0.5"/>
<text x="535.2" y="544.91" font-size="5.9" fill="#2e2e2e" text-anchor="end">interleukin−1 beta production</text>
<line x1="536.8" y1="542.79" x2="539" y2="542.79" stroke="#333" stroke-width="0.5"/>
<text x="535.2" y="554.70" font-size="5.9" fill="#2e2e2e" text-anchor="end">immunoglobulin mediated immune response</text>
<line x1="536.8" y1="552.58" x2="539" y2="552.58" stroke="#333" stroke-width="0.5"/>
<text x="535.2" y="564.49" font-size="5.9" fill="#2e2e2e" text-anchor="end">GATOR2 complex</text>
<line x1="536.8" y1="562.37" x2="539" y2="562.37" stroke="#333" stroke-width="0.5"/>
<text x="535.2" y="574.28" font-size="5.9" fill="#2e2e2e" text-anchor="end">DNA damage response, signal transduction by p53 class mediator</text>
<line x1="536.8" y1="572.16" x2="539" y2="572.16" stroke="#333" stroke-width="0.5"/>
<text x="535.2" y="584.07" font-size="5.9" fill="#2e2e2e" text-anchor="end">DNA binding</text>
<line x1="536.8" y1="581.95" x2="539" y2="581.95" stroke="#333" stroke-width="0.5"/>
<text x="535.2" y="593.86" font-size="5.9" fill="#2e2e2e" text-anchor="end">complement activation, alternative pathway</text>
<line x1="536.8" y1="591.74" x2="539" y2="591.74" stroke="#333" stroke-width="0.5"/>
<text x="535.2" y="603.65" font-size="5.9" fill="#2e2e2e" text-anchor="end">chromatin silencing</text>
<line x1="536.8" y1="601.53" x2="539" y2="601.53" stroke="#333" stroke-width="0.5"/>
<text x="535.2" y="613.44" font-size="5.9" fill="#2e2e2e" text-anchor="end">cellular response to starvation</text>
<line x1="536.8" y1="611.32" x2="539" y2="611.32" stroke="#333" stroke-width="0.5"/>
<text x="535.2" y="623.23" font-size="5.9" fill="#2e2e2e" text-anchor="end">cellular response to glucose starvation</text>
<line x1="536.8" y1="621.11" x2="539" y2="621.11" stroke="#333" stroke-width="0.5"/>
<text x="535.2" y="633.02" font-size="5.9" fill="#2e2e2e" text-anchor="end">autophagy of mitochondrion</text>
<line x1="536.8" y1="630.90" x2="539" y2="630.90" stroke="#333" stroke-width="0.5"/>
<circle cx="576.2" cy="337.20" r="1.8" fill="#b030c0"/>
<circle cx="560.2" cy="346.99" r="1.8" fill="#a030f0"/>
<circle cx="592.3" cy="356.78" r="1.8" fill="#ff1a1a"/>
<circle cx="625.9" cy="366.57" r="4.5" fill="#3000f0"/>
<circle cx="554.9" cy="376.36" r="1.0" fill="#c020b0"/>
<circle cx="554.9" cy="386.15" r="1.0" fill="#c020b0"/>
<circle cx="544" cy="395.94" r="2.4" fill="#2000f0"/>
<circle cx="569.3" cy="405.73" r="3.3" fill="#2000f0"/>
<circle cx="549" cy="415.52" r="1.0" fill="#a020f0"/>
<circle cx="570.5" cy="425.31" r="2.4" fill="#6010f0"/>
<circle cx="574.3" cy="435.10" r="1.9" fill="#b030c0"/>
<circle cx="564" cy="444.89" r="1.2" fill="#e01050"/>
<circle cx="558.1" cy="454.68" r="2.2" fill="#4010f0"/>
<circle cx="566.5" cy="464.47" r="1.9" fill="#a030e0"/>
<circle cx="558.9" cy="474.26" r="1.1" fill="#d01070"/>
<circle cx="564" cy="484.05" r="1.1" fill="#e01040"/>
<circle cx="558.9" cy="493.84" r="1.1" fill="#d01070"/>
<circle cx="584.9" cy="503.63" r="2.2" fill="#b030d0"/>
<circle cx="585.7" cy="513.42" r="1.9" fill="#e01040"/>
<circle cx="566.6" cy="523.21" r="3.2" fill="#2000f0"/>
<circle cx="542.8" cy="533.00" r="1.0" fill="#a020f0"/>
<circle cx="572.6" cy="542.79" r="1.7" fill="#b030c0"/>
<circle cx="549" cy="552.58" r="1.0" fill="#a020f0"/>
<circle cx="576.2" cy="562.37" r="1.7" fill="#b030c0"/>
<circle cx="593.4" cy="572.16" r="2.0" fill="#c030b0"/>
<circle cx="575.9" cy="581.95" r="4.8" fill="#1000f0"/>
<circle cx="549" cy="591.74" r="1.0" fill="#a020f0"/>
<circle cx="546.9" cy="601.53" r="1.9" fill="#8010f0"/>
<circle cx="597.1" cy="611.32" r="2.4" fill="#9010f0"/>
<circle cx="559.4" cy="621.11" r="1.9" fill="#9010f0"/>
<circle cx="566.9" cy="630.90" r="1.9" fill="#9010f0"/>
<line x1="555.16" y1="636.8" x2="555.16" y2="639.0" stroke="#333" stroke-width="0.5"/>
<text x="555.16" y="644.20" font-size="5.9" fill="#333" text-anchor="middle">2</text>
<line x1="577.69" y1="636.8" x2="577.69" y2="639.0" stroke="#333" stroke-width="0.5"/>
<text x="577.69" y="644.20" font-size="5.9" fill="#333" text-anchor="middle">3</text>
<line x1="600.22" y1="636.8" x2="600.22" y2="639.0" stroke="#333" stroke-width="0.5"/>
<text x="600.22" y="644.20" font-size="5.9" fill="#333" text-anchor="middle">4</text>
<line x1="622.75" y1="636.8" x2="622.75" y2="639.0" stroke="#333" stroke-width="0.5"/>
<text x="622.75" y="644.20" font-size="5.9" fill="#333" text-anchor="middle">5</text>
<text x="584.3" y="653.0" font-size="7.26" fill="#000" text-anchor="middle">− log<tspan font-size="4.72" dy="1.8">10</tspan><tspan dy="-1.8"> (P value)</tspan></text>
<text x="0" y="0" font-size="7.38" fill="#000" text-anchor="middle" transform="translate(319.6,484.2) rotate(-90)">Terms</text>
<text x="644.2" y="106.81" font-size="6.7" fill="#000">Input number</text>
<rect x="644.2" y="110.30" width="10.5" height="22.00" fill="#f2f2f2"/>
<circle cx="649.45" cy="115.9" r="3.0" fill="#000"/>
<text x="658.6" y="117.95" font-size="5.70" fill="#111">50</text>
<circle cx="649.45" cy="126.7" r="3.9" fill="#000"/>
<text x="658.6" y="128.75" font-size="5.70" fill="#111">100</text>
<text x="644.2" y="151.31" font-size="6.7" fill="#000">Rich factor</text>
<rect x="644.2" y="155.3" width="10.5" height="53.19999999999999" fill="url(#rfb)"/>
<line x1="644.2" y1="170.2" x2="646.2" y2="170.2" stroke="#fff" stroke-width="0.5"/>
<line x1="652.7" y1="170.2" x2="654.7" y2="170.2" stroke="#fff" stroke-width="0.5"/>
<text x="658.6" y="172.25" font-size="5.70" fill="#111">9</text>
<line x1="644.2" y1="185.3" x2="646.2" y2="185.3" stroke="#fff" stroke-width="0.5"/>
<line x1="652.7" y1="185.3" x2="654.7" y2="185.3" stroke="#fff" stroke-width="0.5"/>
<text x="658.6" y="187.35" font-size="5.70" fill="#111">6</text>
<line x1="644.2" y1="200.7" x2="646.2" y2="200.7" stroke="#fff" stroke-width="0.5"/>
<line x1="652.7" y1="200.7" x2="654.7" y2="200.7" stroke="#fff" stroke-width="0.5"/>
<text x="658.6" y="202.75" font-size="5.70" fill="#111">3</text>
<text x="641" y="426.86" font-size="7.1" fill="#000">Input number</text>
<rect x="641" y="431.10" width="11.3" height="34.40" fill="#f2f2f2"/>
<circle cx="646.65" cy="436.7" r="2.8" fill="#000"/>
<text x="656" y="438.87" font-size="6.03" fill="#111">10</text>
<circle cx="646.65" cy="448.2" r="3.65" fill="#000"/>
<text x="656" y="450.37" font-size="6.03" fill="#111">20</text>
<circle cx="646.65" cy="459.9" r="4.25" fill="#000"/>
<text x="656" y="462.07" font-size="6.03" fill="#111">30</text>
<text x="641" y="485.76" font-size="7.1" fill="#000">Rich factor</text>
<rect x="641" y="489.8" width="11.3" height="56.80000000000001" fill="url(#rfb)"/>
<line x1="641" y1="499" x2="643" y2="499" stroke="#fff" stroke-width="0.5"/>
<line x1="650.3" y1="499" x2="652.3" y2="499" stroke="#fff" stroke-width="0.5"/>
<text x="656" y="501.17" font-size="6.03" fill="#111">30</text>
<line x1="641" y1="516.1" x2="643" y2="516.1" stroke="#fff" stroke-width="0.5"/>
<line x1="650.3" y1="516.1" x2="652.3" y2="516.1" stroke="#fff" stroke-width="0.5"/>
<text x="656" y="518.27" font-size="6.03" fill="#111">20</text>
<line x1="641" y1="532.7" x2="643" y2="532.7" stroke="#fff" stroke-width="0.5"/>
<line x1="650.3" y1="532.7" x2="652.3" y2="532.7" stroke="#fff" stroke-width="0.5"/>
<text x="656" y="534.87" font-size="6.03" fill="#111">10</text>
</svg>
</body></html>
